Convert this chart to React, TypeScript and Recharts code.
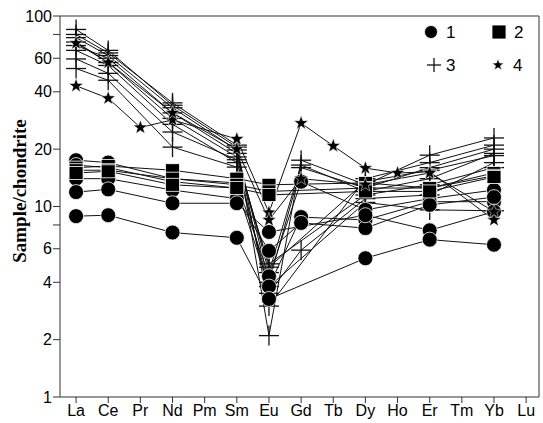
import { LineChart, Line, XAxis, YAxis, ReferenceLine } from 'recharts';

const ELEMENTS = ['La', 'Ce', 'Pr', 'Nd', 'Pm', 'Sm', 'Eu', 'Gd', 'Tb', 'Dy', 'Ho', 'Er', 'Tm', 'Yb', 'Lu'];
const X_TICKS = [0, 1, 2, 3, 4, 5, 6, 7, 8, 9, 10, 11, 12, 13, 14];
const Y_TICKS = [1, 2, 4, 6, 8, 10, 20, 40, 60, 80, 100];
const Y_LABELED = [1, 2, 4, 6, 10, 20, 40, 60, 100];

// values per element:  La, Ce, Pr, Nd, Pm, Sm, Eu, Gd, Tb, Dy, Ho, Er, Tm, Yb, Lu
// group 3 (plus)
const P1 = [85, 66, null, 34, null, 20.5, 2.1, 17.5, null, 13, null, 18.6, null, 22.9, null];
const P2 = [77, 62, null, 33, null, 19.8, 4.0, 16, null, 12.5, null, 16, null, 20, null];
const P3 = [73, 57, null, 29, null, 18.2, 4.8, null, null, 13.5, null, 15.5, null, 18.5, null];
const P4 = [70, 60, null, 31, null, 19, 4.5, 16.5, null, 12, null, 14, null, 19, null];
const P5 = [66, 55, null, 27, null, 17, 5, null, null, 11.5, null, 13, null, 16, null];
const P6 = [59.5, 50, null, 24.6, null, 17.6, 3.5, 5.9, null, 11, null, 11.5, null, 17, null];
const P7 = [53, 46, null, 20.5, null, 16.1, 3.8, null, null, 10.5, null, 9.6, null, 9.5, null];
const P8 = [80, 64, null, 35, null, 21, 3.0, null, null, 14, null, 17, null, 21, null];
// group 1 (circle)
const C1 = [17.5, 17, null, 14, null, 13.3, 4.3, 13.5, null, 9.6, null, 11, null, 12.2, null];
const C2 = [16.5, 16, null, 13.5, null, 12.5, 3.8, 8.8, null, 8.5, null, 10.6, null, 10.6, null];
const C3 = [14, 14, null, 12.2, null, 11, 5.85, 8.2, null, 7.7, null, 10.2, null, 11.2, null];
const C4 = [11.9, 12.3, null, 10.4, null, 10.4, 7.35, null, null, 9, null, 7.5, null, 9.4, null];
const C5 = [8.9, 9.0, null, 7.3, null, 6.85, 3.27, null, null, 5.35, null, 6.7, null, 6.3, null];
// group 2 (square)
const S1 = [16, 16.3, null, 15.5, null, 14, 13, null, null, 13.3, null, 12.5, null, 15, null];
const S2 = [15.5, 15.5, null, 14, null, 13, 12, null, null, 12.5, null, 12.5, null, 14.5, null];
const S3 = [15, 15.3, null, 13, null, 12.5, 11.5, null, null, 12, null, 12, null, 14.3, null];
// group 4 (star)
const T1 = [43, 37, 26, 28.5, null, 22.6, 9.3, 27.4, 20.8, 15.9, 15, 15.2, null, 8.5, null];
const T2 = [72, 57, null, 31, null, 20, 8.5, 14, null, 13, null, 15, null, 9.4, null];

const SERIES = [
  { key: 'p1', group: 3, values: P1 },
  { key: 'p2', group: 3, values: P2 },
  { key: 'p3', group: 3, values: P3 },
  { key: 'p4', group: 3, values: P4 },
  { key: 'p5', group: 3, values: P5 },
  { key: 'p6', group: 3, values: P6 },
  { key: 'p7', group: 3, values: P7 },
  { key: 'p8', group: 3, values: P8 },
  { key: 'c1', group: 1, values: C1 },
  { key: 'c2', group: 1, values: C2 },
  { key: 'c3', group: 1, values: C3 },
  { key: 'c4', group: 1, values: C4 },
  { key: 'c5', group: 1, values: C5 },
  { key: 's1', group: 2, values: S1 },
  { key: 's2', group: 2, values: S2 },
  { key: 's3', group: 2, values: S3 },
  { key: 't1', group: 4, values: T1 },
  { key: 't2', group: 4, values: T2 },
];

const data = ELEMENTS.map((el, i) => {
  const row: Record<string, number | string | null> = { x: i, el };
  for (const s of SERIES) row[s.key] = s.values[i];
  return row;
});

function starPoints(cx: number, cy: number, ro: number, ri: number) {
  const pts: string[] = [];
  for (let k = 0; k < 10; k++) {
    const r = k % 2 === 0 ? ro : ri;
    const a = -Math.PI / 2 + (k * Math.PI) / 5;
    pts.push(`${(cx + r * Math.cos(a)).toFixed(2)},${(cy + r * Math.sin(a)).toFixed(2)}`);
  }
  return pts.join(' ');
}

function Marker({ group, cx, cy, legend }: { group: number; cx: number; cy: number; legend?: boolean }) {
  if (group === 1) {
    return <circle cx={cx} cy={cy} r={legend ? 6.5 : 7.5} fill="#000" stroke="#fff" strokeWidth={0.8} />;
  }
  if (group === 2) {
    const w = 14, h = legend ? 14 : 13;
    return <rect x={cx - w / 2} y={cy - h / 2} width={w} height={h} fill="#000" stroke="#fff" strokeWidth={0.8} />;
  }
  if (group === 3) {
    const hw = legend ? 7 : 10, hh = legend ? 7 : 10;
    return (
      <g stroke="#111" strokeWidth={1.3}>
        <line x1={cx - hw} y1={cy} x2={cx + hw} y2={cy} />
        <line x1={cx} y1={cy - hh} x2={cx} y2={cy + hh} />
      </g>
    );
  }
  return <polygon points={starPoints(cx, cy, legend ? 6 : 7.5, legend ? 2.5 : 3)} fill="#000" stroke="#fff" strokeWidth={0.5} />;
}

function dotFor(group: number, key: string) {
  return (props: any) => {
    const { cx, cy, value, index } = props;
    if (value == null || cx == null || cy == null || Number.isNaN(cy)) return <g key={`${key}-${index}`} />;
    return (
      <g key={`${key}-${index}`}>
        <Marker group={group} cx={cx} cy={cy} />
      </g>
    );
  };
}

const axisStyle = { fontSize: 16, fill: '#000', fontFamily: 'Liberation Sans, Arial, sans-serif' };

export default function App() {
  return (
    <div style={{ position: 'absolute', left: 0, top: 0, width: 543, height: 423, background: '#fff' }}>
      <LineChart width={543} height={423} data={data} margin={{ top: 16, right: 4, bottom: 0, left: 10 }}>
        <XAxis type="number" dataKey="x" domain={[-0.5, 14.4]} ticks={X_TICKS} interval={0}
          tickFormatter={(v) => ELEMENTS[v] ?? ''} tick={axisStyle} tickSize={6} tickMargin={2}
          axisLine={{ stroke: '#333' }} tickLine={{ stroke: '#333' }} height={26} allowDataOverflow />
        <YAxis type="number" scale="log" domain={[1, 100]} ticks={Y_TICKS} interval={0}
          tickFormatter={(v) => (Y_LABELED.includes(v) ? String(v) : '')} tick={axisStyle}
          tickSize={7} tickMargin={1} width={50} axisLine={{ stroke: '#333' }} tickLine={{ stroke: '#333' }}
          allowDataOverflow />
        <ReferenceLine y={100} stroke="#333" />
        <ReferenceLine x={14.4} stroke="#333" />
        {SERIES.map((s) => (
          <Line key={s.key} type="linear" dataKey={s.key} stroke="#111" strokeWidth={1}
            dot={dotFor(s.group, s.key)} activeDot={false} connectNulls isAnimationActive={false} />
        ))}
      </LineChart>
      <svg width={543} height={423} style={{ position: 'absolute', left: 0, top: 0, pointerEvents: 'none' }}>
        <text x={19} y={191} transform="rotate(-90 19 191)" textAnchor="middle" dominantBaseline="central"
          fontFamily="Liberation Serif, Times New Roman, serif" fontWeight="bold" fontSize={19}>Sample/chondrite</text>
        <g fontFamily="Liberation Sans, Arial, sans-serif" fontSize={17} fill="#000">
          <Marker group={1} cx={431} cy={32} legend />
          <text x={446} y={38}>1</text>
          <Marker group={2} cx={499} cy={32} legend />
          <text x={514} y={38}>2</text>
          <Marker group={3} cx={434} cy={65} legend />
          <text x={446} y={71}>3</text>
          <Marker group={4} cx={498} cy={65} legend />
          <text x={513} y={71}>4</text>
        </g>
      </svg>
    </div>
  );
}
